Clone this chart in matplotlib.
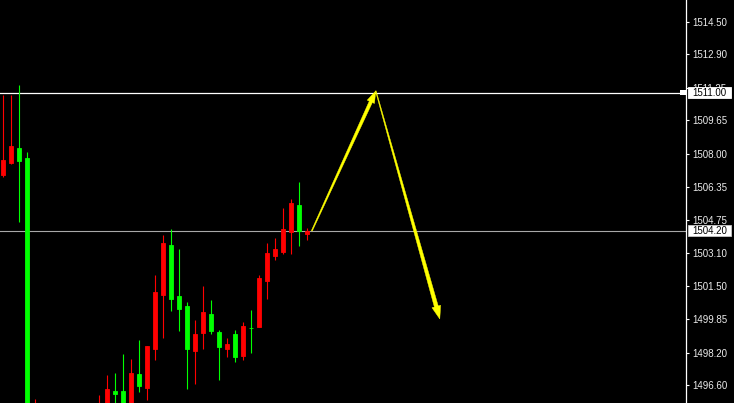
import matplotlib
matplotlib.use('Agg')
import matplotlib.pyplot as plt
import numpy as np
from matplotlib.patches import Polygon, Rectangle
from matplotlib.transforms import blended_transform_factory

# ---- data ----
opens = [1506.96, 1507.55, 1508.29, 1507.80, 1494.60, 1495.20, 1494.30, 1494.00,
         1495.00, 1494.50, 1494.80, 1495.10, 1495.00, 1495.50, 1496.33, 1496.33,
         1495.50, 1497.15, 1496.48, 1498.40, 1501.06, 1503.51, 1501.00, 1500.50,
         1498.30, 1499.19, 1500.11, 1499.22, 1498.40, 1499.12, 1498.04, 1499.42,
         1499.48, 1501.73, 1502.98, 1503.15, 1504.16, 1505.48, 1504.07]
highs = [1510.90, 1510.90, 1511.39, 1508.09, 1495.92, 1495.50, 1495.00, 1495.30,
         1495.40, 1495.20, 1495.50, 1495.60, 1496.12, 1497.10, 1497.21, 1498.14,
         1497.89, 1498.83, 1498.53, 1502.03, 1504.00, 1504.30, 1503.31, 1500.70,
         1499.81, 1501.49, 1500.80, 1499.32, 1498.93, 1499.32, 1499.71, 1500.30,
         1502.03, 1503.59, 1503.84, 1505.32, 1505.78, 1506.63, 1504.33]
lows = [1506.86, 1507.50, 1504.64, 1494.20, 1494.00, 1493.80, 1493.50, 1493.60,
        1494.20, 1493.90, 1494.40, 1494.60, 1494.80, 1495.20, 1495.30, 1495.20,
        1495.30, 1496.28, 1495.87, 1497.84, 1498.93, 1500.27, 1499.28, 1496.40,
        1496.66, 1498.38, 1499.12, 1496.86, 1498.00, 1497.76, 1497.84, 1498.20,
        1499.48, 1500.85, 1502.75, 1503.07, 1503.07, 1503.47, 1503.76]
closes = [1507.70, 1508.39, 1507.65, 1494.60, 1495.20, 1494.30, 1494.00, 1495.00,
          1494.50, 1494.80, 1495.10, 1495.00, 1495.50, 1496.41, 1496.17, 1495.50,
          1497.21, 1496.56, 1498.53, 1501.19, 1503.61, 1500.86, 1500.37, 1498.40,
          1499.12, 1500.21, 1499.28, 1498.50, 1498.63, 1497.97, 1499.52, 1499.40,
          1501.90, 1503.10, 1503.31, 1504.30, 1505.58, 1504.20, 1504.20]
tick_values = [1514.50, 1512.90, 1511.25, 1509.65, 1508.00, 1506.35, 1504.75,
               1503.10, 1501.50, 1499.85, 1498.20, 1496.60]
tick_labels = ['1514.50', '1512.90', '1511.25', '1509.65', '1508.00', '1506.35',
               '1504.75', '1503.10', '1501.50', '1499.85', '1498.20', '1496.60']
level_line = 1511.00
bid_line = 1504.20
arrow_up = [(38.6, 1504.20), (46.6, 1511.10)]
arrow_down = [(46.6, 1511.10), (54.6, 1499.86)]

W, H = 734, 403
fig = plt.figure(figsize=(W / 100, H / 100), dpi=100, facecolor='black')
ax = fig.add_axes([0, 0, 686 / W, 1])
ax.set_facecolor('black')
ax.set_xlim(-0.375, 85.375)
ax.set_ylim(1495.72, 1515.58)
px_per_unit = H / (1515.58 - 1495.72)

RED = '#ff0000'
GREEN = '#00ff00'
x = np.arange(len(opens))
o = np.array(opens); c = np.array(closes); h = np.array(highs); l = np.array(lows)
cols = [RED if cc > oo else GREEN for oo, cc in zip(o, c)]

# level lines
ax.axhline(level_line, color='white', lw=0.9, zorder=1)
ax.axhline(bid_line, color='#a8a8a8', lw=0.8, zorder=1)

ax.vlines(x, l, h, colors=cols, lw=0.8, zorder=2)
bottoms = np.minimum(o, c)
heights = np.abs(c - o)
ax.bar(x, heights, bottom=bottoms, width=0.62, color=cols, edgecolor=cols,
       linewidth=0.6, zorder=3)

# marker on level line (small white square at the axis)
ax.add_patch(Rectangle((84.625, level_line - 2.5 / px_per_unit), 0.75,
                       5 / px_per_unit, facecolor='white', edgecolor='none',
                       zorder=4, clip_on=False))

# axis styling
ax.yaxis.tick_right()
ax.set_yticks(tick_values)
ax.set_yticklabels(tick_labels)
ax.tick_params(axis='y', direction='out', length=2.2, width=0.8, colors='white',
               labelcolor='#ececec', labelsize=7, pad=2.0)
for lab in ax.get_yticklabels():
    lab.set_fontfamily('Liberation Sans')
ax.set_xticks([])
for s in ['top', 'bottom', 'left']:
    ax.spines[s].set_visible(False)
ax.spines['right'].set_color('white')
ax.spines['right'].set_linewidth(0.9)

# price boxes
tr = blended_transform_factory(fig.transFigure, ax.transData)
for val, ec in [(level_line, 'white'), (bid_line, '#c8c8c8')]:
    fig.add_artist(Rectangle((688 / W, val - 5.5 / px_per_unit), 43 / W,
                             11 / px_per_unit, transform=tr, facecolor='white',
                             edgecolor=ec, linewidth=0.6, zorder=9))
    fig.text(692 / W, val, f'{val:.2f}', transform=tr, ha='left', va='center',
             fontsize=7, family='Liberation Sans', color='black', zorder=10)


# tapered yellow arrows
def tapered_arrow(p0, p1, w0, w1, hl, hw, color='#ffff00'):
    P0 = ax.transData.transform(p0)
    P1 = ax.transData.transform(p1)
    d = P1 - P0
    L = np.hypot(*d)
    u = d / L
    n = np.array([-u[1], u[0]])
    base = P1 - u * hl
    pts = [P0 + n * w0, base + n * w1, base + n * hw, P1,
           base - n * hw, base - n * w1, P0 - n * w0]
    pts = ax.transData.inverted().transform(np.array(pts))
    ax.add_patch(Polygon(pts, closed=True, facecolor=color, edgecolor=color,
                         linewidth=0.3, zorder=6))


tapered_arrow(arrow_up[0], arrow_up[1], 0.5, 1.7, 12, 4.0)
tapered_arrow(arrow_down[0], arrow_down[1], 0.35, 2.0, 13, 4.5)

fig.savefig('out.png', dpi=100, facecolor='black')
